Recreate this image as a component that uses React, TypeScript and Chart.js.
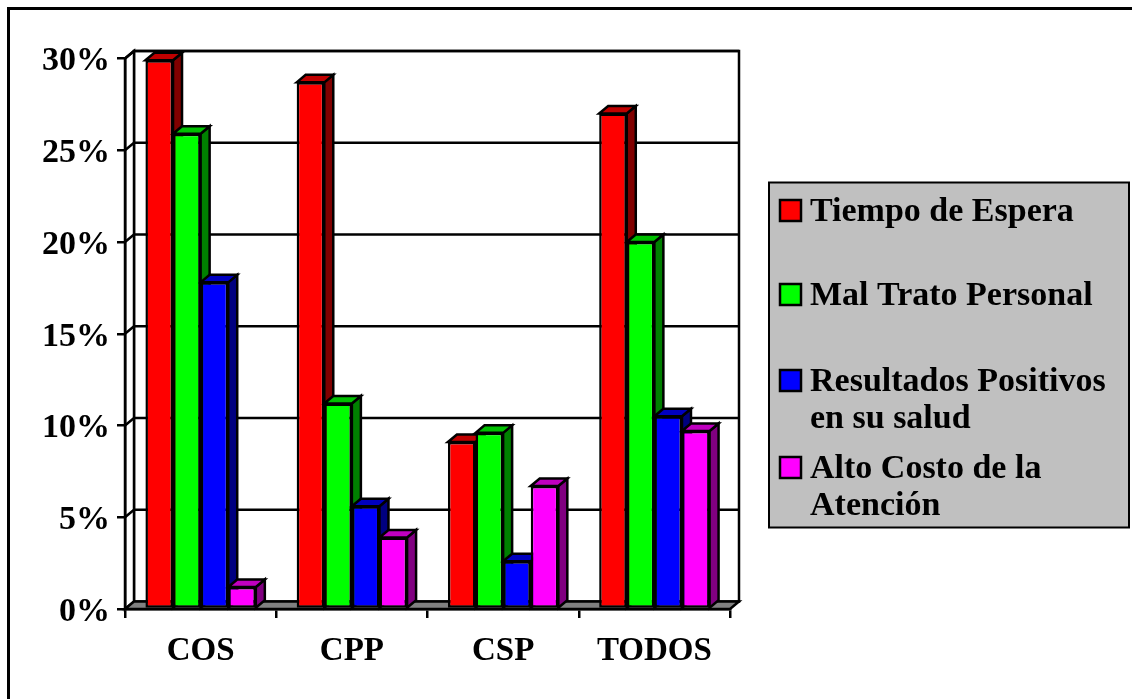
import { useEffect, useRef } from 'react';
import { Chart, registerables } from 'chart.js';

Chart.register(...registerables);

// Categories and series values (percent)
const categories = ['COS', 'CPP', 'CSP', 'TODOS'];
const seriesNames = [
  'Tiempo de Espera',
  'Mal Trato Personal',
  'Resultados Positivos en su salud',
  'Alto Costo de la Atención',
];
const tiempoEspera = [29.9, 28.7, 9.1, 27.0];
const malTrato = [25.9, 11.2, 9.6, 20.0];
const resultadosPositivos = [17.8, 5.6, 2.6, 10.5];
const altoCosto = [1.2, 3.9, 6.7, 9.7];
const yTickStep = 5;
const yMax = 30;

// Face colours: front, top and side of each series' columns
const frontColors = ['#FF0000', '#00FF00', '#0000FF', '#FF00FF'];
const topColors = ['#C00000', '#00C000', '#0000C0', '#C000C0'];
const sideColors = ['#800000', '#008000', '#000080', '#800080'];

const FONT = "'Liberation Serif', 'Times New Roman', serif";
const DX = 9; // depth offset to the right
const DY = 7.5; // depth offset upwards
const EDGE = 2.5; // outline width

type Pt = [number, number];

function poly(ctx: CanvasRenderingContext2D, pts: Pt[], fill: string) {
  ctx.beginPath();
  ctx.moveTo(pts[0][0], pts[0][1]);
  for (let i = 1; i < pts.length; i++) ctx.lineTo(pts[i][0], pts[i][1]);
  ctx.closePath();
  ctx.fillStyle = fill;
  ctx.fill();
  ctx.stroke();
}

// Back wall, side wall, floor and the gridlines on the back wall
const boxPlugin = {
  id: 'box3d',
  beforeDraw(chart: any) {
    const { ctx, chartArea } = chart;
    const { left, right, top, bottom } = chartArea;
    const yScale = chart.scales.y;
    ctx.save();
    ctx.lineWidth = EDGE;
    ctx.strokeStyle = '#000';
    ctx.lineJoin = 'miter';
    // back wall
    poly(ctx, [
      [left + DX, top - DY],
      [right + DX, top - DY],
      [right + DX, bottom - DY],
      [left + DX, bottom - DY],
    ], '#FFFFFF');
    // left wall
    poly(ctx, [
      [left, top],
      [left + DX, top - DY],
      [left + DX, bottom - DY],
      [left, bottom],
    ], '#FFFFFF');
    // floor
    poly(ctx, [
      [left, bottom],
      [right, bottom],
      [right + DX, bottom - DY],
      [left + DX, bottom - DY],
    ], '#808080');
    // gridlines
    ctx.beginPath();
    for (const t of yScale.ticks) {
      if (t.value <= 0) continue;
      const py = yScale.getPixelForValue(t.value);
      ctx.moveTo(left, py);
      ctx.lineTo(left + DX, py - DY);
      ctx.lineTo(right + DX, py - DY);
    }
    ctx.stroke();
    ctx.restore();
  },
  // top and side faces of each column, painted left to right;
  // the library then paints the front faces over them
  beforeDatasetsDraw(chart: any) {
    const { ctx } = chart;
    ctx.save();
    ctx.lineWidth = EDGE;
    ctx.strokeStyle = '#000';
    ctx.lineJoin = 'miter';
    const n = chart.data.labels.length;
    for (let j = 0; j < n; j++) {
      chart.data.datasets.forEach((_ds: any, i: number) => {
        const bar = chart.getDatasetMeta(i).data[j];
        if (!bar) return;
        const { x, y, base, width } = bar.getProps(['x', 'y', 'base', 'width'], true);
        const l = x - width / 2;
        const r = x + width / 2;
        poly(ctx, [
          [r, y],
          [r + DX, y - DY],
          [r + DX, base - DY],
          [r, base],
        ], sideColors[i]);
        poly(ctx, [
          [l, y],
          [l + DX, y - DY],
          [r + DX, y - DY],
          [r, y],
        ], topColors[i]);
      });
    }
    ctx.restore();
  },
};

function wrapText(ctx: CanvasRenderingContext2D, text: string, maxWidth: number) {
  const words = text.split(' ');
  const lines: string[] = [];
  let line = '';
  for (const w of words) {
    const test = line ? line + ' ' + w : w;
    if (line && ctx.measureText(test).width > maxWidth) {
      lines.push(line);
      line = w;
    } else {
      line = test;
    }
  }
  if (line) lines.push(line);
  return lines;
}

// Grey legend box on the right
const legendPlugin = {
  id: 'boxLegend',
  afterDraw(chart: any) {
    const { ctx } = chart;
    const boxX = 769;
    const boxY = 182.5;
    const boxW = 360;
    const boxH = 345;
    const baselines = [221, 305, 391, 478];
    const lineStep = 37;
    ctx.save();
    ctx.fillStyle = '#C0C0C0';
    ctx.fillRect(boxX, boxY, boxW, boxH);
    ctx.lineWidth = 2;
    ctx.strokeStyle = '#000';
    ctx.strokeRect(boxX, boxY, boxW, boxH);
    ctx.font = `bold 34px ${FONT}`;
    ctx.textBaseline = 'alphabetic';
    ctx.textAlign = 'left';
    chart.data.datasets.forEach((ds: any, i: number) => {
      const b = baselines[i];
      ctx.fillStyle = ds.backgroundColor;
      ctx.fillRect(780, b - 21, 21, 21);
      ctx.lineWidth = 2.5;
      ctx.strokeRect(780, b - 21, 21, 21);
      ctx.fillStyle = '#000';
      wrapText(ctx, ds.label, 312).forEach((ln, k) => {
        ctx.fillText(ln, 810, b + k * lineStep);
      });
    });
    ctx.restore();
  },
};

export default function App() {
  const canvasRef = useRef<HTMLCanvasElement | null>(null);

  useEffect(() => {
    const canvas = canvasRef.current;
    if (!canvas) return;
    const seriesValues = [tiempoEspera, malTrato, resultadosPositivos, altoCosto];
    const chart = new Chart(canvas, {
      type: 'bar',
      data: {
        labels: categories,
        datasets: seriesValues.map((values, i) => ({
          label: seriesNames[i],
          data: values,
          backgroundColor: frontColors[i],
          borderColor: '#000',
          borderWidth: 2.5,
          borderSkipped: false,
          categoryPercentage: 0.73,
          barPercentage: 1,
        })),
      },
      options: {
        animation: false,
        responsive: true,
        maintainAspectRatio: false,
        devicePixelRatio: 1,
        events: [],
        layout: { padding: { left: 0, top: 58.5, right: 402, bottom: 0 } },
        plugins: {
          legend: { display: false },
          tooltip: { enabled: false },
        },
        scales: {
          x: {
            offset: true,
            grid: {
              offset: true,
              drawOnChartArea: false,
              drawTicks: true,
              tickLength: 9,
              color: '#000',
              lineWidth: 2.5,
            },
            border: { display: true, color: '#000', width: 2.5 },
            ticks: {
              color: '#000',
              padding: 14,
              font: { family: FONT, size: 33, weight: 'bold' },
            },
            afterFit: (scale: any) => {
              scale.height = 90;
            },
          },
          y: {
            min: 0,
            max: yMax,
            grid: {
              drawOnChartArea: false,
              drawTicks: true,
              tickLength: 8,
              color: '#000',
              lineWidth: 2.5,
            },
            border: { display: true, color: '#000', width: 2.5 },
            ticks: {
              stepSize: yTickStep,
              color: '#000',
              padding: 7,
              labelOffset: 3,
              font: { family: FONT, size: 34, weight: 'bold' },
              callback: (v: any) => `${v}%`,
            },
            afterFit: (scale: any) => {
              scale.width = 125;
            },
          },
        },
      },
      plugins: [boxPlugin, legendPlugin],
    });
    return () => chart.destroy();
  }, []);

  return (
    <div
      style={{
        position: 'fixed',
        left: 0,
        top: 0,
        width: 1132,
        height: 699,
        overflow: 'hidden',
        background: '#fff',
      }}
    >
      <div
        style={{
          position: 'absolute',
          left: 7,
          top: 7,
          width: 1300,
          height: 900,
          borderLeft: '3px solid #000',
          borderTop: '3px solid #000',
        }}
      />
      <div style={{ position: 'absolute', left: 0, top: 0, width: 1132, height: 699 }}>
        <canvas ref={canvasRef} />
      </div>
    </div>
  );
}
